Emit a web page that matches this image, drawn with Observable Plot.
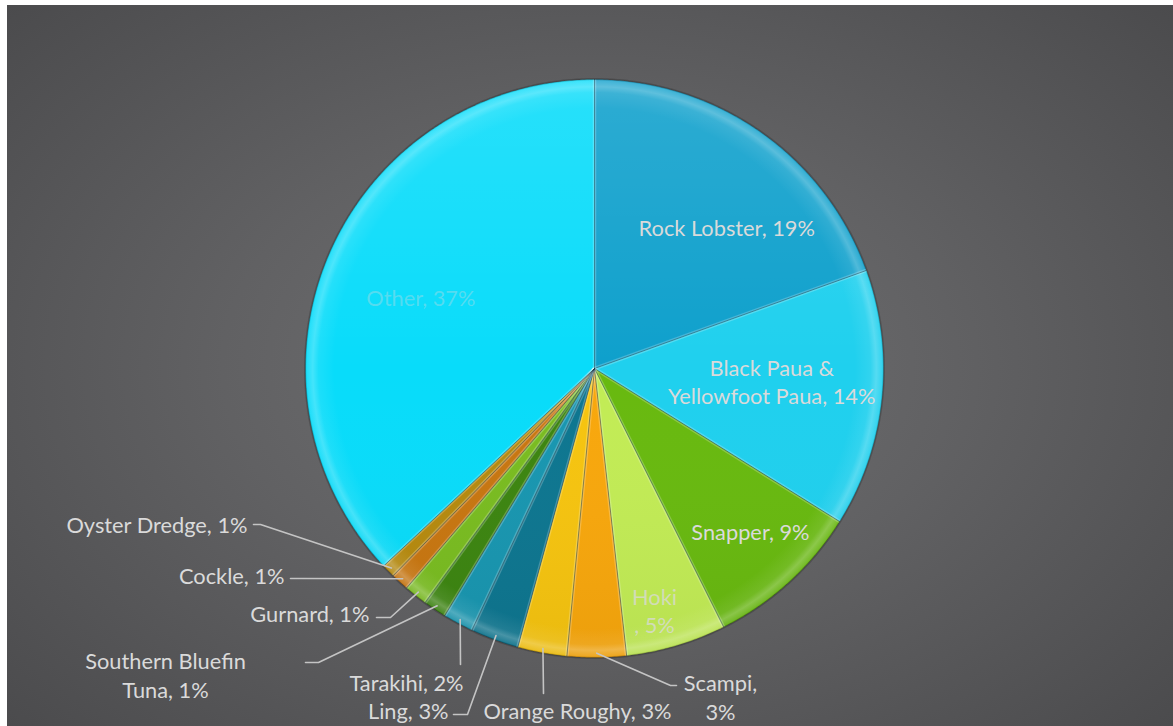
<!DOCTYPE html>
<html><head><meta charset="utf-8">
<script src="https://cdn.jsdelivr.net/npm/d3@7"></script>
<script src="https://cdn.jsdelivr.net/npm/@observablehq/plot@0.6"></script>
<style>
html,body{margin:0;padding:0;background:#fff;width:1173px;height:726px;overflow:hidden}
#wrap{position:absolute;left:7px;top:5px;width:1166px;height:721px;
  background:radial-gradient(ellipse 70% 75% at 50% 50%, #717173 0%, #616163 45%, #4a4a4c 100%);}
</style></head><body><div id="wrap"></div><script>
// ---- data ----
const species = ["Rock Lobster","Black Paua & Yellowfoot Paua","Snapper","Hoki","Scampi","Orange Roughy","Ling","Tarakihi","Southern Bluefin Tuna","Gurnard","Cockle","Oyster Dredge","Other"];
const shares = [19.5,14.4,8.75,5.6,3.3,2.75,2.7,1.7,1.3,1.3,1.0,0.75,37.0];
const labelTexts = ["Rock Lobster, 19%","Black Paua &\nYellowfoot Paua, 14%","Snapper, 9%","Hoki\n, 5%","Scampi,\n3%","Orange Roughy, 3%","Ling, 3%","Tarakihi, 2%","Southern Bluefin\nTuna, 1%","Gurnard, 1%","Cockle, 1%","Oyster Dredge, 1%","Other, 37%"];
const sliceColors = ["#0ea0cc","#1fd0ee","#68b90f","#c2ec55","#f8a70c","#f6c40f","#0d7690","#1896b0","#3c8510","#79bc20","#c87610","#b68a0e","#08dcfa"];

// ---- layout (pie geometry & label placement, pixels) ----
const W = 1166, H = 721, R = 289, cx = 587, cy = 363;
// inside labels: radius fraction + angular shift (deg); outside: text pos / leader bend / leader end, px offsets from centre
const labelLayout = [
  {kind:"in", r:0.67, shift:8, alpha:1},
  {kind:"in", r:0.615, shift:-2, alpha:1},
  {kind:"in", r:0.78, shift:-1.5, alpha:1},
  {kind:"in", r:0.86, shift:2.5, alpha:0.75},
  {kind:"out", anchor:"middle", t:[126,328], bend:[76,317], end:[82,317]},
  {kind:"out", anchor:"middle", t:[-17,341], bend:[-51,325], end:[-51,325]},
  {kind:"out", anchor:"end", t:[-146,341], bend:[-127,346], end:[-141,346]},
  {kind:"out", anchor:"middle", t:[-188,313], bend:[-134,296], end:[-134,296]},
  {kind:"out", anchor:"middle", t:[-429,306], bend:[-276,294], end:[-289,294]},
  {kind:"out", anchor:"end", t:[-225,244], bend:[-204,249], end:[-218,249]},
  {kind:"out", anchor:"end", t:[-310,206], bend:[-294,210], end:[-304,210]},
  {kind:"out", anchor:"end", t:[-347,155], bend:[-334,156], end:[-341,156]},
  {kind:"in", r:0.65, shift:-1, alpha:0.35}
];

// ---- geometry from the data ----
const arcs = d3.pie().sort(null).value(d => d)(shares);
const toXY = (a, r) => [r * Math.sin(a), r * Math.cos(a)];
const slicePts = [];
arcs.forEach((a, i) => {
  slicePts.push({name: species[i], x: 0, y: 0});
  const n = Math.max(2, Math.ceil((a.endAngle - a.startAngle) / (Math.PI / 360)));
  for (let k = 0; k <= n; ++k) {
    const t = a.startAngle + (a.endAngle - a.startAngle) * k / n;
    const [x, y] = toXY(t, 1);
    slicePts.push({name: species[i], x, y});
  }
});
const diskPts = d3.range(0, 721).map(k => { const [x, y] = toXY(k * Math.PI / 360, 1); return {x, y}; });
const edges = arcs.map((a, i) => { const [x, y] = toXY(a.startAngle, 1); return {i, x1: 0, y1: 0, x2: x, y2: y}; });

const px = ([dx, dy]) => [dx / R, -dy / R];
const labels = [], leaders = [];
arcs.forEach((a, i) => {
  const L = labelLayout[i];
  const mid = (a.startAngle + a.endAngle) / 2;
  if (L.kind === "in") {
    const [x, y] = toXY(mid + L.shift * Math.PI / 180, L.r);
    labels.push({text: labelTexts[i], x, y, anchor: "middle", alpha: L.alpha});
  } else {
    const [x, y] = px(L.t);
    labels.push({text: labelTexts[i], x, y, anchor: L.anchor, alpha: 1});
    const [ex, ey] = toXY(mid, 0.985);
    const [bx, by] = px(L.bend), [tx, ty] = px(L.end);
    leaders.push({k: i, x: ex, y: ey}, {k: i, x: bx, y: by}, {k: i, x: tx, y: ty});
  }
});

const textOpts = anchor => ({x: "x", y: "y", text: "text", textAnchor: anchor, fill: "#dadada", fillOpacity: "alpha",
  fontSize: 21.8, fontFamily: "Lato", lineHeight: 1.29});

const chart = Plot.plot({
  width: W, height: H, margin: 0,
  x: {domain: [-cx / R, (W - cx) / R], axis: null},
  y: {domain: [-(H - cy) / R, cy / R], axis: null},
  color: {domain: species, range: sliceColors},
  opacity: {type: "identity"},
  style: {background: "transparent", fontFamily: "Lato", overflow: "visible"},
  marks: [
    Plot.line(diskPts, {x: "x", y: "y", curve: "linear-closed", fill: "none", stroke: "rgba(0,0,0,0.18)", strokeWidth: 3}),
    Plot.line(slicePts, {x: "x", y: "y", z: "name", fill: "name", stroke: "none", curve: "linear-closed"}),
    Plot.line(diskPts, {x: "x", y: "y", curve: "linear-closed", fill: "url(#shade)", stroke: "none"}),
    Plot.line(diskPts, {x: "x", y: "y", curve: "linear-closed", fill: "url(#rim)", stroke: "none"}),
    Plot.link(edges, {x1: "x1", y1: "y1", x2: "x2", y2: "y2", stroke: "rgba(255,255,255,0.22)", strokeWidth: 3.5}),
    Plot.link(edges, {x1: "x1", y1: "y1", x2: "x2", y2: "y2", stroke: "rgba(0,40,60,0.4)", strokeWidth: 1}),
    Plot.line(diskPts, {x: "x", y: "y", curve: "linear-closed", fill: "none", stroke: "rgba(0,0,0,0.15)", strokeWidth: 1}),
    Plot.line(leaders, {x: "x", y: "y", z: "k", stroke: "#c4c4c4", strokeWidth: 1.6}),
    Plot.text(labels.filter(d => d.anchor === "middle"), textOpts("middle")),
    Plot.text(labels.filter(d => d.anchor === "end"), textOpts("end")),
    Plot.text(labels.filter(d => d.anchor === "start"), textOpts("start"))
  ]
});
const defs = document.createElementNS("http://www.w3.org/2000/svg", "defs");
defs.innerHTML = `
<radialGradient id="rim" gradientUnits="userSpaceOnUse" cx="${cx}" cy="${cy}" r="${R}">
  <stop offset="0.90" stop-color="#fff" stop-opacity="0"/>
  <stop offset="0.955" stop-color="#fff" stop-opacity="0.08"/>
  <stop offset="0.975" stop-color="#fff" stop-opacity="0.24"/>
  <stop offset="0.995" stop-color="#fff" stop-opacity="0.10"/>
  <stop offset="1" stop-color="#000" stop-opacity="0.12"/>
</radialGradient>
<linearGradient id="shade" gradientUnits="userSpaceOnUse" x1="0" y1="${cy - R}" x2="0" y2="${cy + R}">
  <stop offset="0" stop-color="#fff" stop-opacity="0.13"/>
  <stop offset="0.5" stop-color="#fff" stop-opacity="0.0"/>
  <stop offset="1" stop-color="#000" stop-opacity="0.05"/>
</linearGradient>`;
chart.insertBefore(defs, chart.firstChild);
document.getElementById("wrap").appendChild(chart);
</script></body></html>
